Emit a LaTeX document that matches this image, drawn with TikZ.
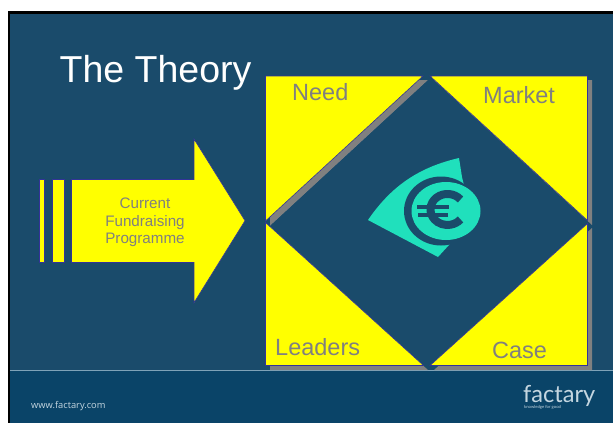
\documentclass[tikz,border=0pt]{standalone}
\usepackage{fontspec}
\setmainfont{Liberation Sans}
\newfontfamily\webfont{Open Sans}
\newfontfamily\logofont{Lato}
\definecolor{slidebg}{HTML}{1A4B6B}
\definecolor{bandbg}{HTML}{0A4468}
\definecolor{bandline}{HTML}{7FA3B8}
\definecolor{teal2}{HTML}{20E0BC}
\definecolor{edgeblue}{HTML}{333399}
\definecolor{shadowgrey}{HTML}{808080}
\definecolor{webtext}{HTML}{C4D6E0}
\definecolor{pureyellow}{HTML}{FFFF00}
\tikzset{
  yellowpart/.style={fill=pureyellow,draw=edgeblue,line width=0.6pt,line join=miter},
  shadowpart/.style={fill=shadowgrey,draw=none},
  graylabel/.style={anchor=base west,inner sep=0pt,text=shadowgrey,font=\fontsize{23.5}{26}\selectfont},
}
\begin{document}
\begin{tikzpicture}[x=1pt,y=-1pt]
\useasboundingbox (0,0) rectangle (613,423);
\fill[white] (0,0) rectangle (613,423);
\fill[black] (7.5,11) rectangle (613,423);
\fill[slidebg] (10,13.5) rectangle (613,423);
\fill[bandbg] (10,370) rectangle (613,423);
\draw[bandline,line width=0.9pt] (10,370.3) -- (613,370.3);
% shadows
\fill[shadowpart] (434,80) -- (592,80) -- (592,225) -- cycle;
\fill[shadowpart] (592,228) -- (592,370) -- (434,370) -- cycle;
\fill[shadowpart] (270,227) -- (428,370) -- (270,370) -- cycle;
% central diamond
\fill[slidebg] (426.5,77) -- (587.5,222) -- (427,366.5) -- (266,222) -- cycle;
\fill[shadowpart] (270,80) -- (428,80) -- (270,226) -- cycle;
% yellow triangles
\draw[yellowpart] (265.5,76) -- (423,76) -- (265.5,221) -- cycle;
\draw[yellowpart] (430,76) -- (587.5,76) -- (587.5,220.5) -- cycle;
\draw[yellowpart] (587.5,223.5) -- (587.5,365.5) -- (430,365.5) -- cycle;
\draw[yellowpart] (265.5,222.5) -- (423.5,365.5) -- (265.5,365.5) -- cycle;
% diamond surface covers the rest of the shadow behind the upper-left edge
\fill[slidebg] (270,226) -- (428.5,80) -- (428.5,140) -- (330,226) -- cycle;
% arrow
\draw[yellowpart] (39,179.5) rectangle (44.5,262.5);
\draw[yellowpart] (52,179.5) rectangle (64,262.5);
\draw[yellowpart] (71.5,179.5) -- (194,179.5) -- (194,139) -- (245,220.7) -- (194,302.7) -- (194,262.5) -- (71.5,262.5) -- cycle;
% euro eye
\fill[teal2] (368,220) .. controls (392,185) and (420,167) .. (459,158) -- (462,177) -- (470,210) -- (449,245) -- (438,257) -- cycle;
\fill[slidebg] (441,211) ellipse [x radius=37,y radius=34.5];
\fill[teal2] (446,211) ellipse [x radius=34.5,y radius=29];
\draw[slidebg,line width=8pt] (460.5,199.5) arc [start angle=-40,end angle=-320,x radius=17,y radius=15.5];
\fill[slidebg] (417,205) rectangle (449,209);
\fill[slidebg] (418,213) rectangle (448,217);
% text
\node (title) [anchor=base west,inner sep=0pt,text=white,font=\fontsize{37.5}{40}\selectfont] at (59.5,82) {The Theory};
\node (need) [graylabel] at (292,100.5) {Need};
\node (market) [graylabel] at (483,103.5) {Market};
\node (leaders) [graylabel] at (275,355.3) {Leaders};
\node (case) [graylabel] at (492,358) {Case};
\node (prog) [anchor=center,inner sep=0pt,align=center,text=shadowgrey,font=\fontsize{15.2}{17.4}\selectfont] at (145,222.5) {Current\\Fundraising\\Programme};
\node (web) [anchor=base west,inner sep=0pt,text=webtext,font=\webfont\fontsize{9.3}{11}\selectfont] at (31,408.5) {www.factary.com};
\node (logo) [anchor=base west,inner sep=0pt,text=webtext,font=\logofont\fontsize{23.6}{25}\selectfont] at (523,402) {factary};
\node (tag) [anchor=base west,inner sep=0pt,text=webtext,font=\logofont\fontsize{4.2}{5}\selectfont] at (524,408.8) {knowledge for good};
\end{tikzpicture}
\end{document}
